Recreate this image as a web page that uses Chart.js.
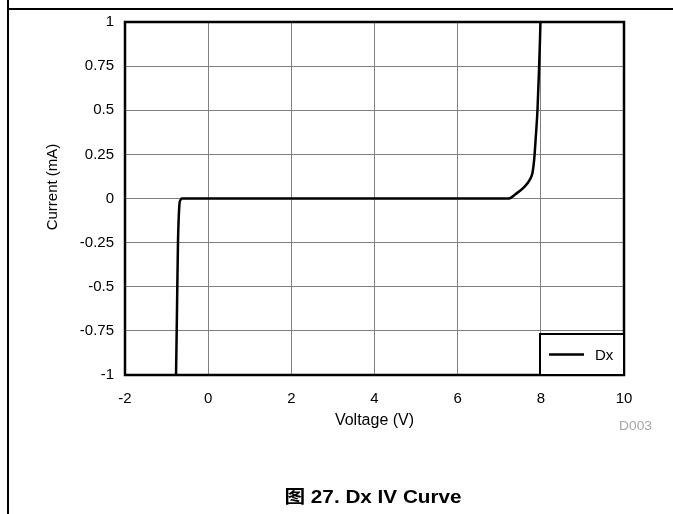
<!DOCTYPE html>
<html><head><meta charset="utf-8">
<script src="https://cdn.jsdelivr.net/npm/chart.js@4/dist/chart.umd.min.js"></script>
<style>
html,body{margin:0;padding:0;background:#fff;width:673px;height:514px;overflow:hidden;}
#wrap{position:relative;width:673px;height:514px;}
#chart{position:absolute;left:0;top:0;}
.vline{position:absolute;left:7px;top:0;width:1.5px;height:514px;background:#000;}
.hline{position:absolute;left:7px;top:8px;width:666px;height:1.5px;background:#000;}
#ytitle{position:absolute;left:-48px;top:178px;width:200px;height:18px;line-height:18px;text-align:center;
  font-family:"Liberation Sans",Arial,sans-serif;font-size:15px;color:#000;transform:rotate(-90deg);transform-origin:50% 50%;}
#code{position:absolute;left:619px;top:420px;font-family:"Liberation Sans",Arial,sans-serif;font-size:12px;line-height:12px;color:#a6a6a6;transform:scaleX(1.15);transform-origin:0 50%;}
#caption{position:absolute;left:373px;top:488px;white-space:nowrap;font-family:"Liberation Sans","Noto Sans CJK SC",sans-serif;font-weight:bold;font-size:18px;line-height:18px;color:#000;transform:translateX(-50%) scaleX(1.15);}
</style></head>
<body><div id="wrap">
<canvas id="chart" width="673" height="514"></canvas>
<div class="vline"></div><div class="hline"></div>
<div id="ytitle">Current (mA)</div>
<div id="code">D003</div>
<div id="caption">图 27. Dx IV Curve</div>
</div>
<script>
const seriesName = 'Dx';
const voltage = [-0.773, -0.756, -0.742, -0.726, -0.71, -0.69, -0.665, -0.63, -0.6, 2, 4, 6, 7.24, 7.38, 7.58, 7.74, 7.80, 7.84, 7.88, 7.92, 7.95, 7.98, 7.99];
const current = [-1, -0.74, -0.5, -0.25, -0.12, -0.03, -0.008, 0, 0, 0, 0, 0, 0, 0.023, 0.06, 0.108, 0.146, 0.22, 0.353, 0.504, 0.69, 0.90, 1];
const xTicks = [-2, 0, 2, 4, 6, 8, 10];
const yTicks = [-1, -0.75, -0.5, -0.25, 0, 0.25, 0.5, 0.75, 1];
const xTitle = 'Voltage (V)';

const points = voltage.map((v, i) => ({x: v, y: current[i]}));

const framePlugin = {
  id: 'frameLegend',
  afterDatasetsDraw(chart) {
    const {ctx, chartArea: a} = chart;
    ctx.save();
    ctx.strokeStyle = '#000';
    ctx.lineWidth = 2.5;
    ctx.strokeRect(a.left, a.top, a.right - a.left, a.bottom - a.top);
    const ds = chart.data.datasets[0];
    const bw = 84, bh = 41;
    const x0 = a.right - bw, y0 = a.bottom - bh;
    ctx.fillStyle = '#fff';
    ctx.fillRect(x0, y0, bw, bh);
    ctx.lineWidth = 2;
    ctx.strokeRect(x0, y0, bw, bh);
    ctx.beginPath();
    ctx.moveTo(x0 + 9, y0 + bh / 2);
    ctx.lineTo(x0 + 44, y0 + bh / 2);
    ctx.lineWidth = ds.borderWidth;
    ctx.strokeStyle = ds.borderColor;
    ctx.stroke();
    ctx.fillStyle = '#000';
    ctx.font = '15px "Liberation Sans", Arial, sans-serif';
    ctx.textBaseline = 'middle';
    ctx.textAlign = 'left';
    ctx.fillText(ds.label, x0 + 55, y0 + bh / 2 + 1);
    ctx.restore();
  }
};

new Chart(document.getElementById('chart'), {
  type: 'scatter',
  data: {
    datasets: [{
      label: seriesName,
      data: points,
      showLine: true,
      borderColor: '#000',
      borderWidth: 2.5,
      pointRadius: 0,
      cubicInterpolationMode: 'monotone',
      fill: false
    }]
  },
  options: {
    responsive: false,
    animation: false,
    devicePixelRatio: 1,
    layout: {padding: {top: 22, right: 49, bottom: 79, left: 0}},
    plugins: {legend: {display: false}, tooltip: {enabled: false}},
    scales: {
      x: {
        type: 'linear', min: -2, max: 10,
        afterBuildTicks: s => { s.ticks = xTicks.map(v => ({value: v})); },
        afterFit: s => { s.height = 60; },
        ticks: {color: '#000', padding: 15, font: {family: '"Liberation Sans", Arial, sans-serif', size: 15},
                callback: v => String(v), maxRotation: 0, autoSkip: false},
        grid: {color: '#808080', lineWidth: 1, drawTicks: false},
        border: {display: false},
        title: {display: true, text: xTitle, color: '#000',
                font: {family: '"Liberation Sans", Arial, sans-serif', size: 16},
                padding: {top: 0, bottom: 5}}
      },
      y: {
        type: 'linear', min: -1, max: 1,
        afterBuildTicks: s => { s.ticks = yTicks.map(v => ({value: v})); },
        afterFit: s => { s.width = 125; },
        ticks: {color: '#000', padding: 11, font: {family: '"Liberation Sans", Arial, sans-serif', size: 15},
                callback: v => String(v), autoSkip: false},
        grid: {color: '#808080', lineWidth: 1, drawTicks: false},
        border: {display: false}
      }
    }
  },
  plugins: [framePlugin]
});
</script>
</body></html>
